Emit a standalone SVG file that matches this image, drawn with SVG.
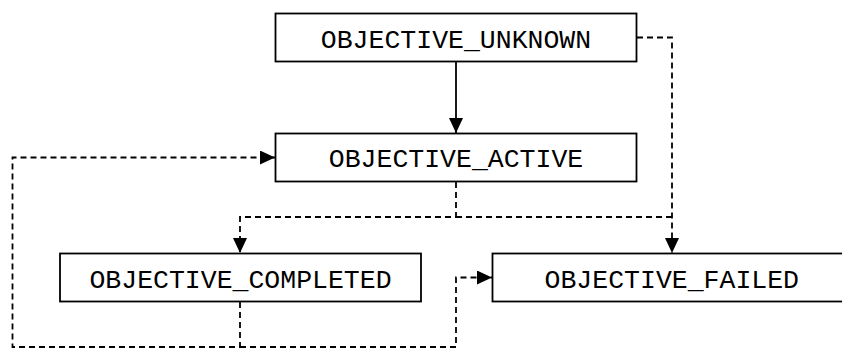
<svg xmlns="http://www.w3.org/2000/svg" width="842" height="349" viewBox="0 0 842 349">
<style>
.box{fill:#fff;stroke:#000;stroke-width:1.8}
.lbl{font-family:"Liberation Mono","Courier New",monospace;font-size:26.5px;fill:#000;text-anchor:middle}
.edge{fill:none;stroke:#000;stroke-width:1.8}
.dash{stroke-dasharray:6,4}
</style>
<defs>
<marker id="arr" markerUnits="userSpaceOnUse" markerWidth="16" markerHeight="15" refX="15" refY="7" orient="auto">
<path d="M0,0 L15,7 L0,14 z" fill="#000"/>
</marker>
</defs>
<rect width="842" height="349" fill="#fff"/>
<g id="connectors">
<path class="edge" d="M456,62 V133" marker-end="url(#arr)"/>
<path class="edge dash" d="M637,37.5 H672 V253" marker-end="url(#arr)"/>
<path class="edge dash" d="M456,182 V217 H240 V253" marker-end="url(#arr)"/>
<path class="edge dash" d="M456,217 H672"/>
<path class="edge dash" d="M240,302 V347 H12.5 V157.5 H275" marker-end="url(#arr)"/>
<path class="edge dash" d="M240,347 H456 V277.5 H492" marker-end="url(#arr)"/>
</g>
<g id="objective_unknown">
<rect class="box" x="275.5" y="13.5" width="361" height="48"/>
<text class="lbl" x="456" y="47.5">OBJECTIVE_UNKNOWN</text>
</g>
<g id="objective_active">
<rect class="box" x="275.5" y="133.5" width="361" height="48"/>
<text class="lbl" x="456" y="167.3">OBJECTIVE_ACTIVE</text>
</g>
<g id="objective_completed">
<rect class="box" x="60" y="253.5" width="361" height="48"/>
<text class="lbl" x="240.5" y="287.5">OBJECTIVE_COMPLETED</text>
</g>
<g id="objective_failed">
<rect class="box" x="492.5" y="253.5" width="359" height="48"/>
<text class="lbl" x="671.8" y="287.5">OBJECTIVE_FAILED</text>
</g>
</svg>
